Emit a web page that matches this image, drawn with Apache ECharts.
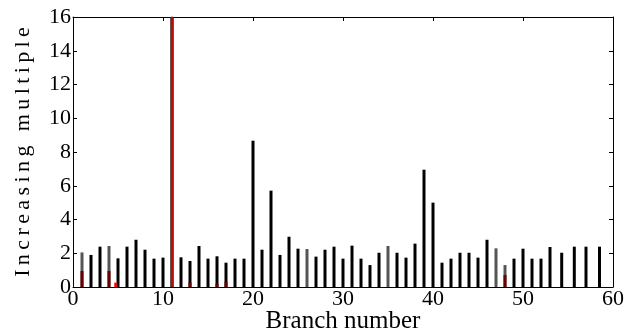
<!DOCTYPE html>
<html>
<head>
<meta charset="utf-8">
<script src="https://cdn.jsdelivr.net/npm/echarts@6/dist/echarts.min.js"></script>
<style>
  html, body { margin: 0; padding: 0; background: #fff; }
  #main { width: 638px; height: 335px; }
</style>
</head>
<body>
<div id="main"></div>
<script>
// branch positions (x) and increasing multiple of each branch (black bars)
const branches = [1, 2, 3, 4, 5, 6, 7, 8, 9, 10, 11, 12, 13, 14, 15, 16, 17, 18, 19, 20,
  21, 22, 23, 24, 25, 26, 27, 28, 29, 30, 31, 32, 33, 34, 35, 36, 37, 38, 39, 40,
  41, 42, 43, 44, 45, 46, 47, 48, 49, 50, 51, 52, 53, 54.3, 55.7, 57, 58.5];
const multiples = [2.05, 1.90, 2.39, 2.43, 1.70, 2.39, 2.80, 2.21, 1.68, 1.74,
  20, 1.76, 1.54, 2.43, 1.68, 1.82, 1.44, 1.68, 1.68, 8.67,
  2.21, 5.71, 1.90, 2.98, 2.27, 2.25, 1.80, 2.21, 2.39, 1.68,
  2.45, 1.68, 1.30, 2.03, 2.43, 2.03, 1.74, 2.57, 6.95, 5.00,
  1.44, 1.68, 2.03, 2.03, 1.74, 2.80, 2.29, 1.30, 1.68, 2.27,
  1.68, 1.68, 2.37, 2.03, 2.39, 2.39, 2.39];

// second (red) series
const redBranches = [1, 4, 4.75, 11, 13, 16, 17, 48];
const redValues = [0.95, 0.95, 0.26, 20, 0.26, 0.2, 0.32, 0.71];

const xTicks = [0, 10, 20, 30, 40, 50, 60];
const yTicks = [0, 2, 4, 6, 8, 10, 12, 14, 16];

const xTitle = 'Branch number';
const yTitle = 'Increasing multiple';

const greyBars = [1, 4, 26, 35, 47, 48];
const font = 'Liberation Serif';

// spread letters a little, like the original's wide title lettering
function spaced(s, gap) {
  return s.split('').join(gap);
}

const chart = echarts.init(document.getElementById('main'));

const blackData = branches.map(function (b, i) {
  const item = { value: [b, multiples[i]] };
  if (greyBars.indexOf(b) >= 0) item.itemStyle = { color: '#555' };
  return item;
});
const redData = redBranches.map(function (b, i) {
  const item = { value: [b, redValues[i]] };
  if (redValues[i] > 16) {
    item.itemStyle = { color: '#e00000', borderColor: '#333', borderWidth: 0.6 };
  } else if (b === 4.75) {
    item.itemStyle = { color: '#ff0000' };
  }
  return item;
});

function xAxis(show) {
  return {
    type: 'value', min: xTicks[0], max: xTicks[xTicks.length - 1], interval: 10,
    position: show ? 'bottom' : 'top',
    name: show ? xTitle : '', nameLocation: 'middle', nameGap: 22, nameMoveOverlap: false,
    nameTextStyle: { fontFamily: font, fontSize: 25, color: '#000' },
    axisLine: { show: true, onZero: false, lineStyle: { color: '#000', width: 1 } },
    axisTick: { show: true, inside: true, length: 4, lineStyle: { color: '#000' } },
    axisLabel: { show: show, fontFamily: font, fontSize: 22, color: '#000', margin: 1 },
    splitLine: { show: false }
  };
}
function yAxis(show) {
  return {
    type: 'value', min: yTicks[0], max: yTicks[yTicks.length - 1], interval: 2,
    position: show ? 'left' : 'right',
    name: show ? spaced(yTitle, '\u2009') : '', nameLocation: 'middle', nameGap: 39,
    nameMoveOverlap: false,
    nameTextStyle: { fontFamily: font, fontSize: 22, color: '#000' },
    axisLine: { show: true, onZero: false, lineStyle: { color: '#000', width: 1 } },
    axisTick: { show: true, inside: true, length: 4, lineStyle: { color: '#000' } },
    axisLabel: { show: show, fontFamily: font, fontSize: 22, color: '#000', margin: 2 },
    splitLine: { show: false }
  };
}

chart.setOption({
  backgroundColor: '#fff',
  animation: false,
  grid: { left: 73, right: 25, top: 17, bottom: 48, outerBoundsMode: 'none', containLabel: false },
  xAxis: [xAxis(true), xAxis(false)],
  yAxis: [yAxis(true), yAxis(false)],
  series: [
    {
      type: 'bar', xAxisIndex: 0, yAxisIndex: 0,
      data: blackData, barWidth: 3, clip: true,
      itemStyle: { color: '#000' }
    },
    {
      type: 'bar', xAxisIndex: 0, yAxisIndex: 0,
      data: redData, barWidth: 3, barGap: '-100%', clip: true,
      itemStyle: { color: '#6b0000' }
    }
  ]
});
</script>
</body>
</html>
